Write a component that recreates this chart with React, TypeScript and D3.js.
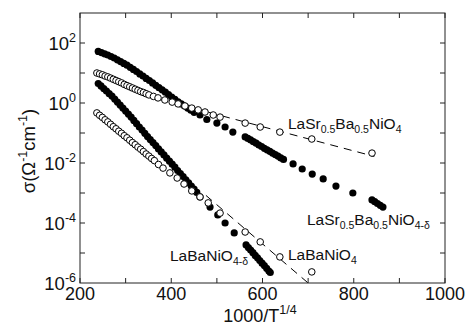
import React from "react";
import * as d3 from "d3";

const W = 471;
const H = 331;

// axis ticks
const xTickLabels = [200, 400, 600, 800, 1000];
const xMinorTicks = [300, 500, 700, 900];
const yTickExps = [-6, -4, -2, 0, 2];
const yAllExps = [-5, -4, -3, -2, -1, 0, 1, 2];

// [1000/T^1/4, log10 sigma]
const sr05Delta = [
  [240, 1.72], [247, 1.68], [254, 1.64], [261, 1.6], [268, 1.55], [275, 1.5], [282, 1.44], [289, 1.38],
  [296, 1.32], [303, 1.26], [310, 1.19], [317, 1.12], [324, 1.05], [331, 0.97], [338, 0.9], [345, 0.82],
  [352, 0.75], [359, 0.67], [366, 0.59], [373, 0.51], [380, 0.44], [387, 0.36], [394, 0.28], [401, 0.2],
  [408, 0.12], [415, 0.04], [422, -0.03], [429, -0.1], [436, -0.17], [443, -0.24], [450, -0.31],
  [463, -0.4], [478, -0.55], [500, -0.67], [518, -0.8], [535, -0.97],
  [562, -1.13], [568, -1.18], [574, -1.23], [580, -1.29], [586, -1.34], [592, -1.4], [598, -1.45],
  [604, -1.51], [610, -1.56], [616, -1.61], [622, -1.67], [628, -1.72], [634, -1.77], [640, -1.83], [646, -1.88],
  [667, -2.03], [687, -2.2], [709, -2.37], [733, -2.53], [761, -2.77], [798, -3.0],
  [840, -3.23], [846, -3.29], [852, -3.35], [858, -3.41], [864, -3.47],
];

const sr05 = [
  [237, 1.0], [243, 0.97], [249, 0.94], [255, 0.9], [261, 0.87], [267, 0.83], [273, 0.79], [279, 0.75],
  [285, 0.71], [291, 0.67], [297, 0.62], [303, 0.58], [309, 0.54], [315, 0.5], [321, 0.46], [327, 0.42],
  [333, 0.38], [339, 0.35], [345, 0.31], [351, 0.27], [361, 0.22],
  [371, 0.17], [386, 0.1], [402, 0.03], [415, -0.03], [430, -0.1], [445, -0.17], [459, -0.23], [474, -0.3],
  [492, -0.4], [507, -0.47], [562, -0.67], [595, -0.8], [638, -0.97], [708, -1.2], [840, -1.67],
];

const baDelta = [
  [240, 0.65], [246, 0.57], [252, 0.48], [258, 0.4], [264, 0.31], [270, 0.23], [276, 0.13], [282, 0.03],
  [288, -0.07], [294, -0.17], [300, -0.27], [306, -0.37], [312, -0.47], [318, -0.58], [324, -0.69],
  [330, -0.8], [336, -0.9], [342, -1.01], [348, -1.12], [354, -1.22], [360, -1.32], [366, -1.42],
  [372, -1.53], [378, -1.63], [384, -1.73], [390, -1.84], [396, -1.94], [402, -2.04], [408, -2.14],
  [414, -2.25], [420, -2.35], [426, -2.45], [432, -2.56], [438, -2.66], [444, -2.77], [450, -2.87], [456, -2.98],
  [463, -3.13], [485, -3.47], [502, -3.73], [518, -4.0], [538, -4.33],
  [564, -4.73], [569, -4.82], [574, -4.9], [579, -4.99], [584, -5.08], [589, -5.16], [594, -5.25],
  [599, -5.34], [604, -5.42], [609, -5.51], [614, -5.6], [617, -5.65],
];

const ba = [
  [237, -0.33], [243, -0.41], [249, -0.48], [255, -0.56], [261, -0.63], [267, -0.71], [273, -0.79],
  [279, -0.86], [285, -0.94], [291, -1.01], [297, -1.09], [303, -1.16], [309, -1.24], [315, -1.32],
  [321, -1.39], [327, -1.47], [333, -1.54], [339, -1.62], [345, -1.7], [351, -1.77], [357, -1.85], [363, -1.92],
  [372, -2.05], [382, -2.17], [397, -2.33], [413, -2.5], [428, -2.7], [445, -2.93], [463, -3.13], [481, -3.33],
  [507, -3.67], [562, -4.3], [595, -4.63], [638, -5.13], [708, -5.63],
];

// fitted (dashed) lines
const sr05Fit = [[452, -0.19], [845, -1.78]];
const baFit = [[476, -3.08], [700, -6.0]];

const FONT = "'Liberation Sans', Arial, Helvetica, sans-serif";

const App = () => {
  const x = d3.scaleLinear().domain([200, 1000]).range([80, 445]);
  const y = d3.scaleLog().domain([1e-6, 1e3]).range([283, 13]);
  const px = (d) => x(d[0]);
  const py = (d) => y(Math.pow(10, d[1]));
  const fitLine = d3.line().x(px).y(py);

  const filled = (data, key) =>
    data.map((d, i) => <circle key={key + i} cx={px(d)} cy={py(d)} r={3.6} fill="#000" />);
  const open = (data, key) =>
    data.map((d, i) => (
      <circle key={key + i} cx={px(d)} cy={py(d)} r={3.3} fill="#fff" stroke="#000" strokeWidth={1} />
    ));

  const top = 13, bottom = 283, left = 80, right = 445;

  return (
    <svg width={W} height={H} style={{ position: "absolute", left: 0, top: 0, background: "#fff" }} fontFamily={FONT}>
      <rect x={0} y={0} width={W} height={H} fill="#fff" />
      {/* frame */}
      <rect x={left} y={top} width={right - left} height={bottom - top} fill="none" stroke="#222" strokeWidth={1} />

      {/* x ticks, bottom and top */}
      {xTickLabels.concat(xMinorTicks).map((v) => (
        <g key={"xt" + v}>
          <line x1={x(v)} x2={x(v)} y1={bottom} y2={bottom - 5} stroke="#222" />
          <line x1={x(v)} x2={x(v)} y1={top} y2={top + 5} stroke="#222" />
        </g>
      ))}
      {/* y ticks, left and right */}
      {yAllExps.map((e) => (
        <g key={"yt" + e}>
          <line x1={left} x2={left + 5} y1={y(Math.pow(10, e))} y2={y(Math.pow(10, e))} stroke="#222" />
          <line x1={right} x2={right - 5} y1={y(Math.pow(10, e))} y2={y(Math.pow(10, e))} stroke="#222" />
        </g>
      ))}

      {/* x tick labels */}
      {xTickLabels.map((v) => (
        <text key={"xl" + v} x={x(v)} y={300} textAnchor="middle" fontSize={18} fill="#111">
          {v}
        </text>
      ))}
      {/* y tick labels */}
      {yTickExps.map((e) => (
        <text key={"yl" + e} x={76} y={y(Math.pow(10, e)) + 7} textAnchor="end" fill="#111">
          <tspan fontSize={18.5}>10</tspan>
          <tspan fontSize={12.5} dy={-8}>{e}</tspan>
        </text>
      ))}

      {/* axis titles */}
      <text x={260} y={322} textAnchor="middle" fontSize={18} fill="#111">
        1000/T<tspan fontSize={12.5} dy={-8}>1/4</tspan>
      </text>
      <text transform="translate(35,151) rotate(-90)" textAnchor="middle" fontSize={18.5} fill="#111">
        σ(Ω<tspan fontSize={12.5} dy={-8}>-1</tspan>
        <tspan dy={8}>cm</tspan>
        <tspan fontSize={12.5} dy={-8}>-1</tspan>
        <tspan dy={8}>)</tspan>
      </text>

      {/* fitted dashed lines */}
      <path d={fitLine(sr05Fit)} fill="none" stroke="#000" strokeWidth={1} strokeDasharray="8,6" />
      <path d={fitLine(baFit)} fill="none" stroke="#000" strokeWidth={1} strokeDasharray="8,6" />

      {/* data */}
      {filled(sr05Delta, "a")}
      {filled(baDelta, "c")}
      {open(sr05, "b")}
      {open(ba, "d")}

      {/* series labels */}
      <text x={288} y={129} fontSize={15.5} fill="#111">
        LaSr<tspan fontSize={10.5} dy={4}>0.5</tspan>
        <tspan dy={-4}>Ba</tspan>
        <tspan fontSize={10.5} dy={4}>0.5</tspan>
        <tspan dy={-4}>NiO</tspan>
        <tspan fontSize={10.5} dy={4}>4</tspan>
      </text>
      <text x={307} y={225} fontSize={15.5} fill="#111">
        LaSr<tspan fontSize={10.5} dy={4}>0.5</tspan>
        <tspan dy={-4}>Ba</tspan>
        <tspan fontSize={10.5} dy={4}>0.5</tspan>
        <tspan dy={-4}>NiO</tspan>
        <tspan fontSize={10.5} dy={4}>4-δ</tspan>
      </text>
      <text x={170} y={261} fontSize={15.5} fill="#111">
        LaBaNiO<tspan fontSize={10.5} dy={4}>4-δ</tspan>
      </text>
      <text x={288} y={260} fontSize={15.5} fill="#111">
        LaBaNiO<tspan fontSize={10.5} dy={4}>4</tspan>
      </text>
    </svg>
  );
};

export default App;
